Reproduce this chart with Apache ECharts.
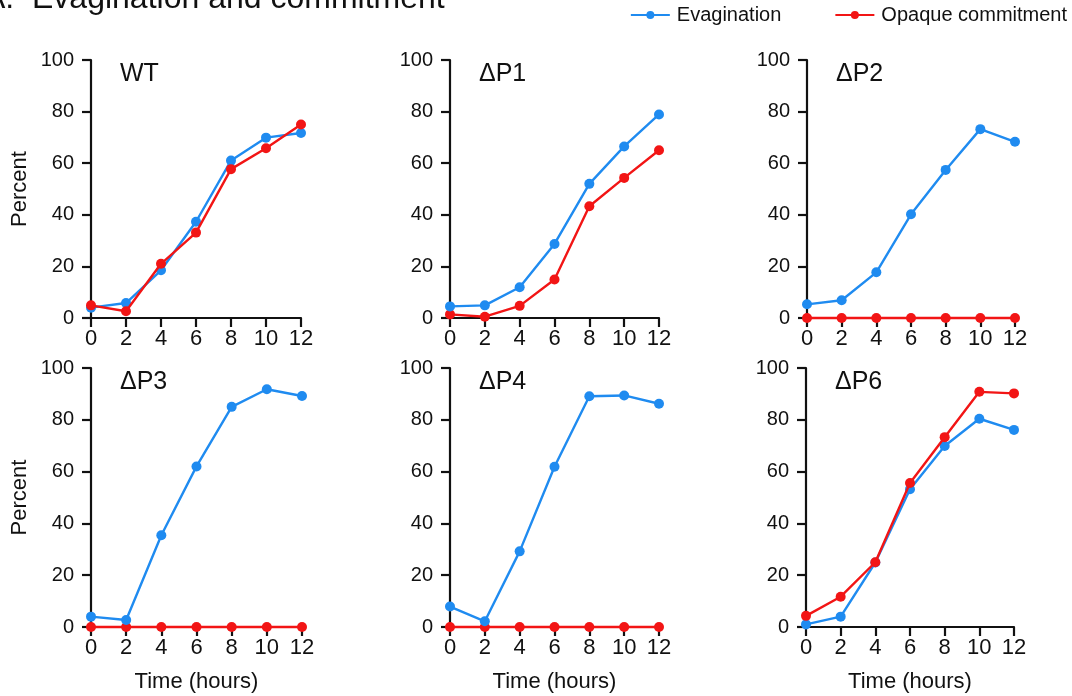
<!DOCTYPE html>
<html>
<head>
<meta charset="utf-8">
<script src="https://cdn.jsdelivr.net/npm/echarts@6/dist/echarts.min.js"></script>
<style>
  html, body { margin: 0; padding: 0; background: #fff; }
  #chart { width: 1072px; height: 696px; }
</style>
</head>
<body>
<div id="chart"></div>
<script>
const hours = [0, 2, 4, 6, 8, 10, 12]
const panelNames = ['WT', 'ΔP1', 'ΔP2', 'ΔP3', 'ΔP4', 'ΔP6']

// evagination (blue) per panel
const evagWT = [4, 5.8, 18.5, 37.3, 61, 69.9, 71.7]
const evagP1 = [4.5, 4.9, 11.9, 28.7, 52, 66.5, 78.9]
const evagP2 = [5.3, 6.9, 17.7, 40.2, 57.4, 73.2, 68.3]
const evagP3 = [4, 2.7, 35.4, 62, 85, 91.8, 89.2]
const evagP4 = [7.9, 2.2, 29.2, 61.9, 89.1, 89.4, 86.2]
const evagP6 = [1, 4, 24.9, 53.2, 69.9, 80.4, 76.1]

// opaque commitment (red) per panel
const opaqWT = [4.9, 2.6, 21, 33.1, 57.7, 65.8, 75]
const opaqP1 = [1.4, 0.5, 4.7, 14.9, 43.3, 54.3, 65]
const opaqP2 = [0, 0, 0, 0, 0, 0, 0]
const opaqP3 = [0, 0, 0, 0, 0, 0, 0]
const opaqP4 = [0, 0, 0, 0, 0, 0, 0]
const opaqP6 = [4.3, 11.7, 25, 55.6, 73.3, 90.8, 90.2]

const evag = [evagWT, evagP1, evagP2, evagP3, evagP4, evagP6]
const opaq = [opaqWT, opaqP1, opaqP2, opaqP3, opaqP4, opaqP6]

const BLUE = '#1f8bf0'
const RED = '#f21515'
const FONT = 'Liberation Sans, Arial, sans-serif'

const grids = [
  { left: 91, top: 60, width: 210, height: 258 },
  { left: 450, top: 60, width: 209, height: 258 },
  { left: 807, top: 60, width: 208, height: 258 },
  { left: 91, top: 368, width: 211, height: 259 },
  { left: 450, top: 368, width: 209, height: 259 },
  { left: 806, top: 368, width: 208, height: 259 }
]

const axisLine = { show: true, lineStyle: { color: '#111', width: 2.2 } }
const axisTick = { show: true, length: 9, lineStyle: { color: '#111', width: 2.2 } }

const xAxes = grids.map((g, i) => ({
  type: 'value', gridIndex: i, min: 0, max: 12, interval: 2,
  axisLine, axisTick,
  axisLabel: { color: '#111', fontSize: 22, fontFamily: FONT, margin: 10 },
  splitLine: { show: false },
  name: i >= 3 ? 'Time (hours)' : '', nameLocation: 'middle', nameGap: 44,
  nameTextStyle: { color: '#111', fontSize: 22, fontFamily: FONT }
}))

const yAxes = grids.map((g, i) => ({
  type: 'value', gridIndex: i, min: 0, max: 100, interval: 20,
  axisLine, axisTick,
  axisLabel: { color: '#111', fontSize: 20, fontFamily: FONT, margin: 17 },
  splitLine: { show: false },
  name: i % 3 === 0 ? 'Percent' : '', nameLocation: 'middle', nameGap: 60,
  nameRotate: 90,
  nameTextStyle: { color: '#111', fontSize: 22, fontFamily: FONT }
}))

const series = []
grids.forEach((g, i) => {
  series.push({
    name: 'Evagination', type: 'line', xAxisIndex: i, yAxisIndex: i,
    data: hours.map((h, k) => [h, evag[i][k]]),
    color: BLUE, symbol: 'circle', symbolSize: 10, clip: false,
    lineStyle: { width: 2.4 }, z: 3
  })
  series.push({
    name: 'Opaque commitment', type: 'line', xAxisIndex: i, yAxisIndex: i,
    data: hours.map((h, k) => [h, opaq[i][k]]),
    color: RED, symbol: 'circle', symbolSize: 10, clip: false,
    lineStyle: { width: 2.4 }, z: i === 0 || i === 5 ? 4 : 2
  })
})

const panelTitles = grids.map((g, i) => ({
  text: panelNames[i], left: g.left + 29, top: g.top + 2, padding: 0,
  textStyle: { color: '#111', fontSize: 25, fontWeight: 'normal', fontFamily: FONT }
}))

const chart = echarts.init(document.getElementById('chart'))
chart.setOption({
  animation: false,
  backgroundColor: '#fff',
  title: [
    {
      text: 'A.  Evagination and commitment', left: -16, top: -17, padding: 0,
      textStyle: { color: '#111', fontSize: 32, fontWeight: 'normal', fontFamily: FONT }
    },
    ...panelTitles
  ],
  legend: {
    right: 5, top: 5, padding: 0, itemGap: 53, itemWidth: 39, itemHeight: 10,
    textStyle: { color: '#111', fontSize: 20, fontFamily: FONT, padding: [0, 0, 0, 2] },
    data: ['Evagination', 'Opaque commitment']
  },
  grid: grids,
  xAxis: xAxes,
  yAxis: yAxes,
  series
})
</script>
</body>
</html>
